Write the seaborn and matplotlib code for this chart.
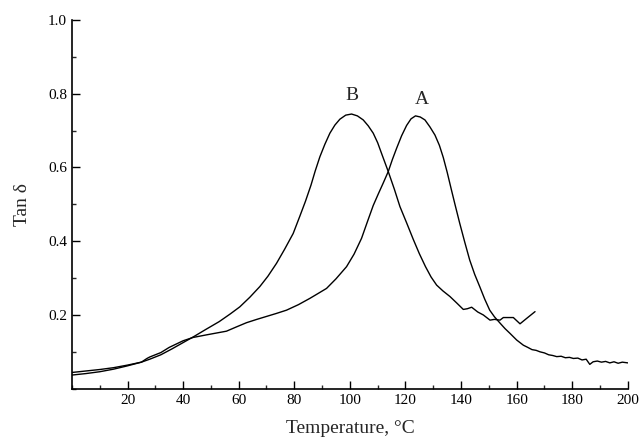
import numpy as np
import pandas as pd
import matplotlib
matplotlib.use("Agg")
import matplotlib.pyplot as plt
import seaborn as sns
from matplotlib.ticker import MultipleLocator, FixedLocator

# Curve A (tan delta vs temperature)
temp_a = [0, 5, 10, 15, 20, 25, 27, 28, 32, 35, 40, 43.6, 48.4, 52, 55.6, 59, 62.8, 66.5, 70,
          73.5, 77.2, 81.5, 85.6, 88.5, 91.6, 95, 98.8, 101.5, 104.2, 106.4, 108.4, 110.2, 112,
          113.8, 115.3, 116.8, 118.6, 120.4, 122, 123.6, 125.3, 127, 128.8, 130.6, 132.2, 133.6,
          135, 136.5, 137.8, 139.5, 141.3, 143.1, 144.9, 146.7, 148.5, 150.3, 152, 154, 155.8,
          157.6, 160, 162.4, 164, 165.5, 167, 168.4, 170, 171.5, 173, 174.4, 176, 177.5, 179,
          180.4, 182, 183.5, 185, 186.3, 187.5, 189, 190.5, 192, 193.5, 195, 196.5, 198, 200]
tan_a = [0.044, 0.048, 0.052, 0.057, 0.064, 0.072, 0.082, 0.086, 0.098, 0.112, 0.130, 0.139,
         0.146, 0.151, 0.156, 0.167, 0.179, 0.188, 0.196, 0.204, 0.213, 0.228, 0.245, 0.258,
         0.272, 0.298, 0.331, 0.365, 0.408, 0.455, 0.497, 0.528, 0.558, 0.589, 0.622, 0.652,
         0.686, 0.714, 0.732, 0.740, 0.737, 0.729, 0.710, 0.688, 0.660, 0.627, 0.587, 0.540,
         0.500, 0.449, 0.398, 0.349, 0.310, 0.277, 0.243, 0.213, 0.195, 0.178, 0.163, 0.150,
         0.132, 0.118, 0.112, 0.106, 0.104, 0.100, 0.097, 0.092, 0.090, 0.087, 0.088, 0.084,
         0.085, 0.082, 0.083, 0.078, 0.080, 0.066, 0.073, 0.075, 0.072, 0.074, 0.070, 0.073,
         0.069, 0.072, 0.070]

# Curve B
temp_b = [0, 5, 10, 15, 20, 25, 28, 32, 36, 40, 44, 48, 53, 57, 60.4, 64, 67.6, 70.5, 73.6,
          76.5, 79.6, 82, 84, 86, 87.5, 89.2, 91, 92.8, 94.6, 96.4, 98.5, 100.6, 102.7, 104.8,
          106.6, 108.4, 110, 111.4, 113.8, 116, 118, 120.4, 122.8, 125, 127.2, 129.2, 131.2,
          133.5, 136, 138.5, 140.8, 142.3, 143.8, 146, 148, 150.4, 152, 154, 155.2, 158.8,
          161.2, 163.8, 166.6]
tan_b = [0.037, 0.041, 0.046, 0.053, 0.062, 0.072, 0.080, 0.092, 0.108, 0.125, 0.142, 0.160,
         0.182, 0.203, 0.222, 0.248, 0.277, 0.305, 0.340, 0.378, 0.421, 0.468, 0.508, 0.552,
         0.590, 0.629, 0.663, 0.693, 0.715, 0.731, 0.742, 0.745, 0.740, 0.729, 0.713, 0.693,
         0.667, 0.638, 0.589, 0.541, 0.494, 0.450, 0.405, 0.366, 0.331, 0.303, 0.281, 0.265,
         0.250, 0.232, 0.215, 0.217, 0.221, 0.208, 0.200, 0.186, 0.188, 0.186, 0.193, 0.193,
         0.176, 0.192, 0.209]

x_ticks = [20, 40, 60, 80, 100, 120, 140, 160, 180, 200]
y_ticks = [0.2, 0.4, 0.6, 0.8, 1.0]

sns.set_style("ticks")
plt.rcParams['font.family'] = ['Liberation Serif', 'DejaVu Serif']

df = pd.concat([
    pd.DataFrame({"Temperature": temp_a, "Tan": tan_a, "series": "A"}),
    pd.DataFrame({"Temperature": temp_b, "Tan": tan_b, "series": "B"}),
])

fig = plt.figure(figsize=(6.42, 4.41), dpi=100)
ax = fig.add_axes([0.112, 0.1186, 0.866, 0.836])
sns.lineplot(data=df, x="Temperature", y="Tan", units="series", estimator=None,
             color="black", linewidth=1.0, sort=False, ax=ax, legend=False)

ax.set_xlim(0, 200)
ax.set_ylim(0, 1.0)
ax.xaxis.set_major_locator(FixedLocator(x_ticks))
ax.yaxis.set_major_locator(FixedLocator(y_ticks))
ax.xaxis.set_minor_locator(MultipleLocator(10))
ax.yaxis.set_minor_locator(MultipleLocator(0.1))
ax.set_xticklabels([str(t) for t in x_ticks])
ax.set_yticklabels([f"{t:.1f}" for t in y_ticks])
ax.tick_params(which="major", direction="in", length=6, width=1.0, labelsize=11, colors="black")
ax.tick_params(which="minor", direction="in", length=3, width=1.0)
for s in ["top", "right"]:
    ax.spines[s].set_visible(False)
for s in ["left", "bottom"]:
    ax.spines[s].set_linewidth(1.2)
    ax.spines[s].set_color("black")

ax.set_xlabel("Temperature, °C", fontsize=14, labelpad=10)
ax.set_ylabel("Tan δ", fontsize=14, labelpad=12)

ax.text(100.7, 0.795, "B", fontsize=14, ha="center", va="center")
ax.text(125.9, 0.785, "A", fontsize=14, ha="center", va="center")

fig.savefig("out.png", dpi=100)
